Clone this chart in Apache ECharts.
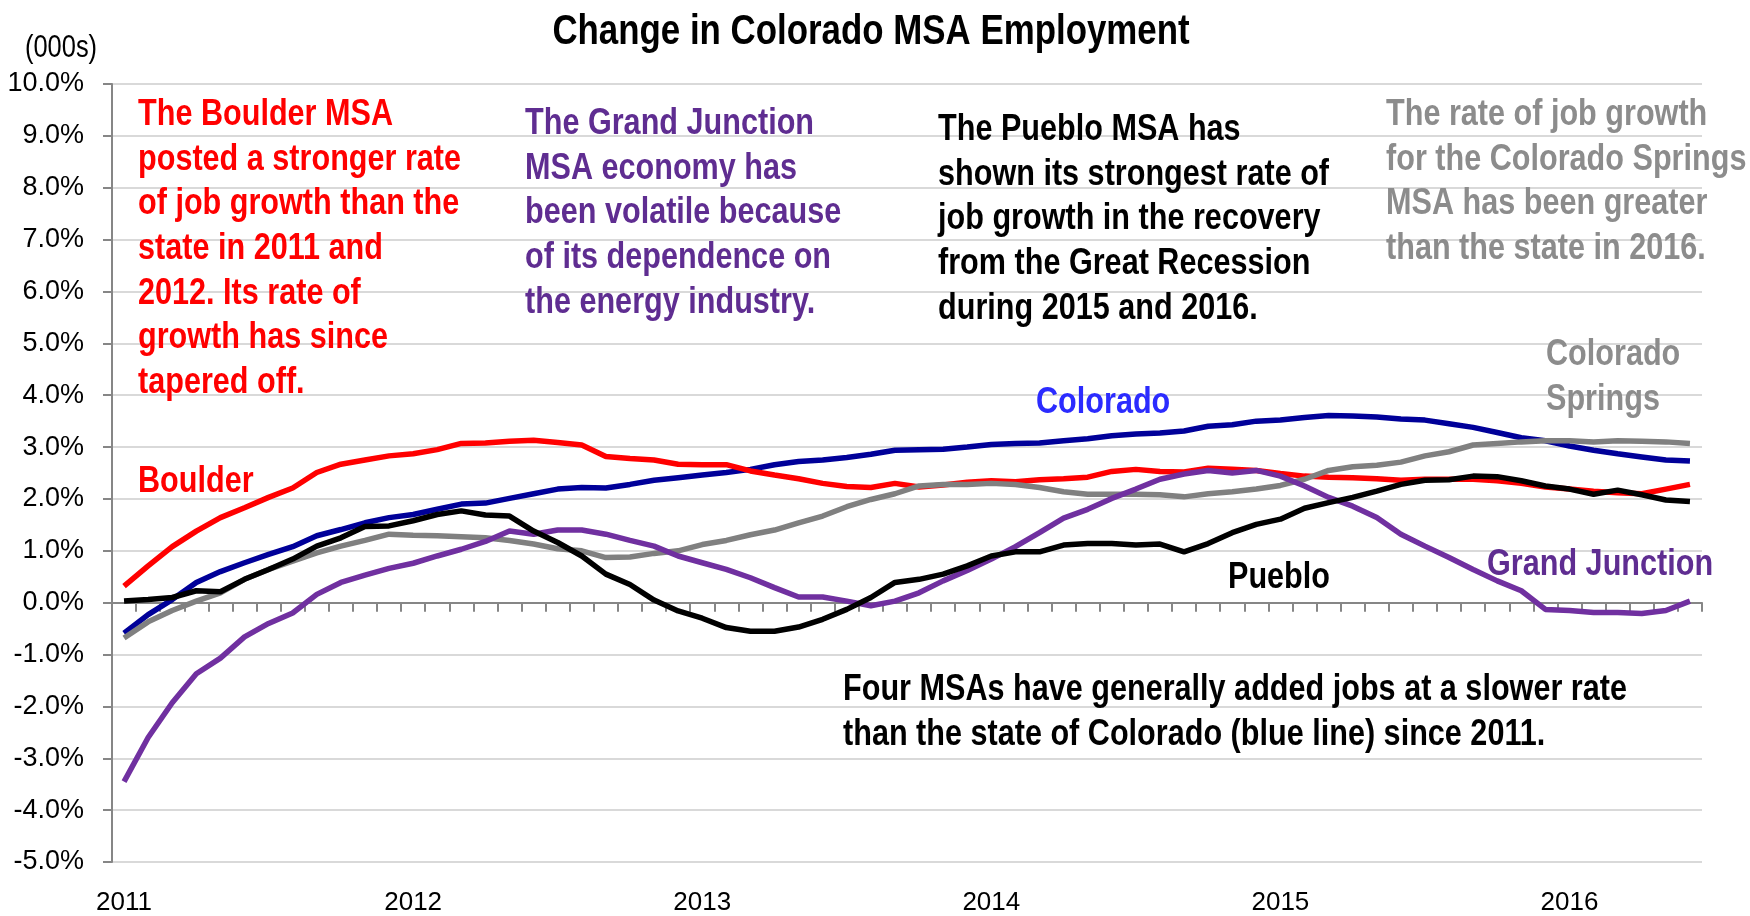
<!DOCTYPE html>
<html>
<head>
<meta charset="utf-8">
<title>Change in Colorado MSA Employment</title>
<script src="https://cdn.jsdelivr.net/npm/echarts/dist/echarts.min.js"></script>
<style>
    html, body { margin: 0; padding: 0; background: #fff; }
    #main { width: 1750px; height: 916px; }
</style>
</head>
<body>
<div id="main"></div>
<script>
// tick labels on the time axis
var years = ['2011', '2012', '2013', '2014', '2015', '2016'];
// monthly categories, Jan 2011 - Jun 2016
var months = [];
for (var y = 0; y < years.length; y++) {
    for (var m = 1; m <= 12; m++) {
        if (y === years.length - 1 && m > 6) break;
        months.push(years[y] + '-' + (m < 10 ? '0' + m : m));
    }
}

// year-over-year change, %
var colorado = [-0.59, -0.23, 0.06, 0.39, 0.60, 0.77, 0.93, 1.08, 1.29, 1.41,
    1.54, 1.64, 1.70, 1.80, 1.90, 1.92, 2.01, 2.10, 2.19, 2.22,
    2.21, 2.28, 2.36, 2.41, 2.46, 2.51, 2.57, 2.66, 2.72, 2.75,
    2.80, 2.86, 2.94, 2.95, 2.96, 3.00, 3.05, 3.07, 3.08, 3.12,
    3.16, 3.22, 3.25, 3.27, 3.31, 3.40, 3.43, 3.50, 3.52, 3.57,
    3.61, 3.60, 3.58, 3.54, 3.52, 3.45, 3.38, 3.28, 3.18, 3.12,
    3.02, 2.94, 2.87, 2.81, 2.75, 2.73];
var boulder = [0.32, 0.71, 1.08, 1.38, 1.64, 1.83, 2.03, 2.21, 2.51, 2.67,
    2.75, 2.83, 2.87, 2.95, 3.07, 3.08, 3.11, 3.13, 3.09, 3.04,
    2.82, 2.78, 2.75, 2.67, 2.66, 2.66, 2.54, 2.46, 2.39, 2.30,
    2.24, 2.22, 2.30, 2.23, 2.27, 2.32, 2.35, 2.33, 2.37, 2.39,
    2.42, 2.53, 2.57, 2.53, 2.52, 2.59, 2.57, 2.55, 2.49, 2.44,
    2.42, 2.41, 2.39, 2.36, 2.38, 2.38, 2.38, 2.35, 2.30, 2.23,
    2.19, 2.15, 2.12, 2.10, 2.19, 2.28];
var coloradoSprings = [-0.68, -0.37, -0.15, 0.03, 0.19, 0.45, 0.64, 0.80, 0.96, 1.09,
    1.20, 1.32, 1.30, 1.29, 1.27, 1.25, 1.20, 1.13, 1.04, 1.00,
    0.87, 0.88, 0.95, 1.00, 1.12, 1.20, 1.31, 1.40, 1.54, 1.67,
    1.85, 1.99, 2.10, 2.25, 2.28, 2.28, 2.30, 2.28, 2.22, 2.14,
    2.09, 2.09, 2.09, 2.08, 2.04, 2.10, 2.14, 2.19, 2.26, 2.38,
    2.55, 2.62, 2.65, 2.71, 2.83, 2.91, 3.04, 3.07, 3.10, 3.12,
    3.12, 3.10, 3.12, 3.11, 3.10, 3.07];
var grandJunction = [-3.45, -2.60, -1.93, -1.37, -1.07, -0.66, -0.40, -0.20, 0.16, 0.39,
    0.53, 0.66, 0.76, 0.90, 1.03, 1.18, 1.38, 1.32, 1.40, 1.40,
    1.32, 1.20, 1.09, 0.90, 0.77, 0.64, 0.48, 0.29, 0.11, 0.11,
    0.03, -0.06, 0.03, 0.19, 0.42, 0.62, 0.84, 1.08, 1.35, 1.63,
    1.80, 2.01, 2.19, 2.38, 2.48, 2.55, 2.50, 2.55, 2.44, 2.25,
    2.03, 1.86, 1.64, 1.32, 1.09, 0.87, 0.64, 0.42, 0.23, -0.13,
    -0.15, -0.19, -0.19, -0.21, -0.15, 0.03];
var pueblo = [0.03, 0.06, 0.10, 0.23, 0.21, 0.45, 0.64, 0.84, 1.09, 1.25,
    1.47, 1.48, 1.58, 1.70, 1.77, 1.69, 1.67, 1.38, 1.16, 0.90,
    0.55, 0.35, 0.05, -0.16, -0.30, -0.48, -0.55, -0.55, -0.47, -0.32,
    -0.13, 0.10, 0.39, 0.45, 0.55, 0.71, 0.90, 0.98, 0.98, 1.11,
    1.14, 1.14, 1.11, 1.13, 0.98, 1.14, 1.35, 1.51, 1.61, 1.82,
    1.93, 2.03, 2.15, 2.28, 2.36, 2.37, 2.44, 2.43, 2.35, 2.25,
    2.19, 2.09, 2.17, 2.08, 1.98, 1.95];

window.onload = function () {
    var myChart = echarts.init(document.getElementById('main'));

    var font = '"Liberation Sans", Arial, sans-serif';
    var axisGray = '#868686';

    // no narrow font installed, so squeeze the text horizontally
    function note(x, y, text, color, size, weight, align, vAlign, squeeze) {
        return {
            type: 'text',
            x: x,
            y: y,
            z: 100,
            scaleX: squeeze || 0.85,
            silent: true,
            style: {
                text: text,
                fill: color,
                font: (weight || 'bold') + ' ' + (size || 36) + 'px ' + font,
                lineHeight: 44.6,
                align: align || 'left',
                verticalAlign: vAlign || 'top'
            }
        };
    }

    function line(name, data, color) {
        return {
            name: name,
            type: 'line',
            data: data,
            symbol: 'none',
            xAxisIndex: 0,
            lineStyle: { color: color, width: 5.5 },
            itemStyle: { color: color }
        };
    }

    var option = {
        backgroundColor: '#fff',
        animation: false,
        grid: { left: 112, right: 48, top: 84, bottom: 53, containLabel: false },
        xAxis: [
            {
                type: 'category',
                data: months,
                boundaryGap: true,
                axisLine: { onZero: true, lineStyle: { color: axisGray, width: 2 } },
                axisTick: { show: true, interval: 0, length: 9, lineStyle: { color: axisGray, width: 2 } },
                axisLabel: { show: false },
                splitLine: { show: false }
            },
            {
                type: 'category',
                data: months,
                boundaryGap: true,
                position: 'bottom',
                axisLine: { show: false, onZero: false },
                axisTick: { show: false },
                axisLabel: {
                    interval: 11,
                    margin: 28,
                    fontSize: 26,
                    fontFamily: font,
                    color: '#000',
                    formatter: function (v) { return v.slice(0, 4); }
                },
                splitLine: { show: false }
            }
        ],
        yAxis: {
            type: 'value',
            min: -5,
            max: 10,
            interval: 1,
            axisLine: { show: true, lineStyle: { color: axisGray, width: 2 } },
            axisTick: { show: true, length: 9, lineStyle: { color: axisGray, width: 2 } },
            axisLabel: {
                margin: 28,
                fontSize: 27,
                fontFamily: font,
                color: '#000',
                formatter: function (v) { return v.toFixed(1) + '%'; }
            },
            splitLine: { lineStyle: { color: '#d9d9d9', width: 2 } }
        },
        graphic: [
            note(871, 32, 'Change in Colorado MSA Employment', '#000', 42, 'bold', 'center', 'middle', 0.83),
            note(25, 48, '(000s)', '#000', 31, 'normal', 'left', 'middle', 0.82),
            note(138, 93, 'The Boulder MSA\nposted a stronger rate\nof job growth than the\nstate in 2011 and\n2012. Its rate of\ngrowth has since\ntapered off.', '#ff0000'),
            note(525, 102, 'The Grand Junction\nMSA economy has\nbeen volatile because\nof its dependence on\nthe energy industry.', '#5f2d91'),
            note(938, 108, 'The Pueblo MSA has\nshown its strongest rate of\njob growth in the recovery\nfrom the Great Recession\nduring 2015 and 2016.', '#000'),
            note(1386, 93, 'The rate of job growth\nfor the Colorado Springs\nMSA has been greater\nthan the state in 2016.', '#8c8c8c'),
            note(1036, 381, 'Colorado', '#2b2bff'),
            note(1546, 333, 'Colorado\nSprings', '#8c8c8c'),
            note(138, 460, 'Boulder', '#ff0000'),
            note(1228, 556, 'Pueblo', '#000'),
            note(1487, 543, 'Grand Junction', '#5f2d91'),
            note(843, 668, 'Four MSAs have generally added jobs at a slower rate\nthan the state of Colorado (blue line) since 2011.', '#000')
        ],
        series: [
            line('Colorado', colorado, '#000099'),
            line('Boulder', boulder, '#ff0000'),
            line('Colorado Springs', coloradoSprings, '#808080'),
            line('Grand Junction', grandJunction, '#7030a0'),
            line('Pueblo', pueblo, '#000000')
        ]
    };

    myChart.setOption(option);
};
</script>
</body>
</html>
